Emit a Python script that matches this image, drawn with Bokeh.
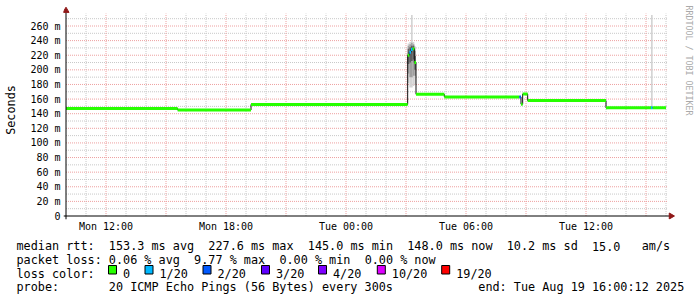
import math
import re
from bokeh.plotting import figure
from bokeh.layouts import column
from bokeh.models import FixedTicker, Range1d
from bokeh.core.properties import value
from bokeh.embed import file_html
from bokeh.resources import INLINE

# ---------------- data ----------------
day_offset = {"Mon": 0, "Tue": 24}


def hours(stamp):
    d, hm = stamp.split()
    h, m = hm.split(":")
    return day_offset[d] + int(h) + int(m) / 60.0


window_start = "Mon 10:00"
window_end = "Tue 16:00"
probe_step_minutes = 5
graph_top_ms = 277

# median rtt, as runs of 5-minute steps (start of run), value in ms, lost pings of 20
median_start = ["Mon 10:00", "Mon 15:35", "Mon 19:15", "Tue 03:05", "Tue 03:10",
                "Tue 03:15", "Tue 03:20", "Tue 03:25", "Tue 03:30", "Tue 04:55",
                "Tue 08:40", "Tue 08:45", "Tue 08:50", "Tue 09:05", "Tue 13:00",
                "Tue 15:15", "Tue 15:20"]
median_ms = [147.0, 145.0, 152.7, 220.0, 224.0,
             228.0, 229.0, 210.0, 166.5, 163.0,
             163.0, 153.0, 167.0, 158.0, 148.0,
             148.0, 148.0]
median_loss = [0, 0, 0, 0, 1,
               1, 0, 0, 0, 0,
               2, 0, 0, 0, 0,
               1, 0]

# smoke (spread of the 20 pings) for the steps where it is visible
smoke_start = ["Tue 03:05", "Tue 03:10", "Tue 03:15", "Tue 03:20", "Tue 03:25", "Tue 15:15"]
smoke_outer_lo = [182, 176, 176, 178, 180, 147]
smoke_outer_hi = [236, 238, 275, 238, 232, 275]
smoke_mid_lo = [195, 190, 190, 192, 192, 147]
smoke_mid_hi = [233, 235, 237, 235, 226, 150]
smoke_core_lo = [208, 210, 212, 214, 200, 147]
smoke_core_hi = [229, 231, 233, 233, 219, 149]

loss_levels = [0, 1, 2, 3, 4, 10, 19]
loss_labels = ["0", "1/20", "2/20", "3/20", "4/20", "10/20", "19/20"]
loss_colors = ["#26ff00", "#00b8ff", "#0059ff", "#5e00ff", "#7e00ff", "#dd00ff", "#ff0000"]

y_ticks_ms = [0, 20, 40, 60, 80, 100, 120, 140, 160, 180, 200, 220, 240, 260]
y_minor_ms = [10, 30, 50, 70, 90, 110, 130, 150, 170, 190, 210, 230, 250, 270]
y_tick_labels = ["0", "20 m", "40 m", "60 m", "80 m", "100 m", "120 m", "140 m",
                 "160 m", "180 m", "200 m", "220 m", "240 m", "260 m"]
x_label_ticks = ["Mon 12:00", "Mon 18:00", "Tue 00:00", "Tue 06:00", "Tue 12:00"]
x_grid_major = ["Mon 12:00", "Mon 15:00", "Mon 18:00", "Mon 21:00", "Tue 00:00",
                "Tue 03:00", "Tue 06:00", "Tue 09:00", "Tue 12:00", "Tue 15:00"]

legend_rows = [
    "median rtt:  153.3 ms avg  227.6 ms max  145.0 ms min  148.0 ms now  10.2 ms sd  15.0   am/s",
    "packet loss: 0.06 % avg  9.77 % max  0.00 % min  0.00 % now",
    "loss color:",
    "probe:       20 ICMP Echo Pings (56 Bytes) every 300s            end: Tue Aug 19 16:00:12 2025",
]
y_axis_title = "Seconds"
watermark = "RRDTOOL / TOBI OETIKER"

# ---------------- layout (pixels) ----------------
W, H = 697, 297
H1 = 236                    # height of the graph part
FRAME_L, FRAME_B = 63, 219  # frame edges of the graph part
PX_PER_H = 20.0
PX_PER_MS = 190.0 / 260.0
X0_PX = 65.5                # pixel of window start
Y0_PX = 215.5               # pixel of 0 ms
MONO = "DejaVu Sans Mono"
CHAR_W = 11.8 * 0.6021      # advance of the monospace font at 11.8px

x_start = hours(window_start)
x_end = hours(window_end)
step_h = probe_step_minutes / 60.0

xr = Range1d(x_start + (FRAME_L - X0_PX) / PX_PER_H, x_start + (W - X0_PX) / PX_PER_H)
yr = Range1d(-(FRAME_B - Y0_PX) / PX_PER_MS, Y0_PX / PX_PER_MS)

p = figure(width=W, height=H1, x_range=xr, y_range=yr, title=None,
           min_border_left=FRAME_L, min_border_right=0, min_border_top=0,
           min_border_bottom=H1 - FRAME_B, output_backend="svg", toolbar_location=None)
p.frame_align = False
p.outline_line_color = None
p.background_fill_color = "#ffffff"
p.border_fill_color = "#ffffff"
p.xgrid.visible = False
p.ygrid.visible = False

# axes: only tick labels (lines drawn below)
p.xaxis.ticker = FixedTicker(ticks=[hours(s) for s in x_label_ticks], minor_ticks=[])
p.xaxis.major_label_overrides = {hours(s): s for s in x_label_ticks}
p.yaxis.ticker = FixedTicker(ticks=y_ticks_ms, minor_ticks=[])
p.yaxis.major_label_overrides = dict(zip(y_ticks_ms, y_tick_labels))
for ax in (p.xaxis, p.yaxis):
    ax.axis_line_color = None
    ax.major_tick_line_color = None
    ax.minor_tick_line_color = None
    ax.major_tick_in = 0
    ax.major_tick_out = 0
    ax.minor_tick_in = 0
    ax.minor_tick_out = 0
    ax.major_label_text_font = MONO
    ax.major_label_text_font_size = "10px"
    ax.major_label_text_color = "#000000"
p.yaxis.major_label_standoff = 3
p.xaxis.major_label_standoff = 1
p.yaxis.axis_label = y_axis_title
p.yaxis.axis_label_text_font = MONO
p.yaxis.axis_label_text_font_size = "11.8px"
p.yaxis.axis_label_text_font_style = "normal"
p.yaxis.axis_label_text_color = "#000000"
p.yaxis.axis_label_standoff = 9

# grid (dotted), drawn from the tick arrays
maj_x = [hours(s) for s in x_grid_major]
min_x = [h for h in range(int(x_start) + 1, int(x_end) + 1)
         if all(abs(h - m) > 1e-6 for m in maj_x)]
grid_minor = "#c8c8c8"
grid_major = "#eea0a0"
p.segment(x0=min_x, x1=min_x, y0=[0] * len(min_x), y1=[graph_top_ms] * len(min_x),
          line_color=grid_minor, line_dash="1 1", line_width=1)
p.segment(x0=[x_start] * len(y_minor_ms), x1=[x_end + 0.1] * len(y_minor_ms),
          y0=y_minor_ms, y1=y_minor_ms, line_color=grid_minor, line_dash="1 1", line_width=1)
p.segment(x0=maj_x, x1=maj_x, y0=[0] * len(maj_x), y1=[graph_top_ms] * len(maj_x),
          line_color=grid_major, line_dash="1 1", line_width=1)
yt_maj = y_ticks_ms[1:]
p.segment(x0=[x_start] * len(yt_maj), x1=[x_end + 0.1] * len(yt_maj),
          y0=yt_maj, y1=yt_maj, line_color=grid_major, line_dash="1 1", line_width=1)

# smoke
sm_l = [hours(s) for s in smoke_start]
sm_r = [v + step_h for v in sm_l]
p.quad(left=sm_l, right=sm_r, bottom=smoke_outer_lo, top=smoke_outer_hi,
       fill_color="#d4d4d4", line_color=None)
p.quad(left=sm_l, right=sm_r, bottom=smoke_mid_lo, top=smoke_mid_hi,
       fill_color="#a0a0a0", line_color=None)
p.quad(left=sm_l, right=sm_r, bottom=smoke_core_lo, top=smoke_core_hi,
       fill_color="#606060", line_color=None)

# median: black step line + loss coloured horizontal runs
ms_x = [hours(s) for s in median_start]
p.step(ms_x + [x_end], median_ms + [median_ms[-1]], mode="after",
       line_color="#111111", line_width=1)
seg_x1 = ms_x[1:] + [x_end]
seg_col = [loss_colors[loss_levels.index(l)] for l in median_loss]
p.segment(x0=ms_x, x1=seg_x1, y0=median_ms, y1=median_ms,
          line_color=seg_col, line_width=3)

# axis lines with arrow heads
x_axis_from = xr.start
x_axis_to = x_end + 0.25
y_axis_from = yr.start
y_axis_to = graph_top_ms + 4
p.segment(x0=[x_axis_from, x_start], x1=[x_axis_to, x_start],
          y0=[0, y_axis_from], y1=[0, y_axis_to], line_color="#000000", line_width=1)
arrow_col = "#901818"
p.scatter(x=[x_axis_to], y=[0], marker="triangle", size=6, angle=-math.pi / 2,
          fill_color=arrow_col, line_color=arrow_col)
p.scatter(x=[x_start], y=[y_axis_to], marker="triangle", size=6, angle=0,
          fill_color=arrow_col, line_color=arrow_col)

# watermark on the right
p.text(x=[x_start + (688 - X0_PX) / PX_PER_H], y=[(Y0_PX - 5) / PX_PER_MS], text=[watermark],
       angle=-math.pi / 2, text_align="left", text_baseline="middle",
       text_font=value(MONO), text_font_size=value("8.3px"), text_color="#aaaaaa")

# ---------------- legend part ----------------
q = figure(width=W, height=H - H1, x_range=Range1d(0, W), y_range=Range1d(H, H1),
           title=None, min_border=0, x_axis_location=None, y_axis_location=None,
           output_backend="svg", toolbar_location=None)
q.frame_align = False
q.outline_line_color = None
q.background_fill_color = "#ffffff"
q.border_fill_color = "#ffffff"
q.xgrid.visible = False
q.ygrid.visible = False

row_baselines = [245.6, 259.3, 273.0, 286.7]
chunk_x, chunk_y, chunk_t = [], [], []
for row, bl in zip(legend_rows, row_baselines):
    for m in re.finditer(r"\S+(?: \S+)*", row):
        chunk_x.append(16 + m.start() * CHAR_W)
        chunk_y.append(bl)
        chunk_t.append(m.group())
q.text(x=chunk_x, y=chunk_y, text=chunk_t,
       text_align="left", text_baseline="alphabetic",
       text_font=value(MONO), text_font_size=value("11.8px"), text_color="#000000")

legend_bl = row_baselines[2]
label_px = [122.5, 159.0, 217.0, 275.5, 332.5, 391.3, 455.7]
box_left = [lx - 14.5 for lx in label_px]
q.quad(left=box_left, right=[b + 8 for b in box_left],
       top=[legend_bl - 8] * len(box_left), bottom=[legend_bl + 0.5] * len(box_left),
       fill_color=loss_colors, line_color="#000000", line_width=1)
q.text(x=label_px, y=[legend_bl] * len(label_px), text=loss_labels,
       text_align="left", text_baseline="alphabetic",
       text_font=value(MONO), text_font_size=value("11.8px"), text_color="#000000")

layout = column(p, q, spacing=0)
open("out.html", "w").write(file_html(layout, INLINE))
